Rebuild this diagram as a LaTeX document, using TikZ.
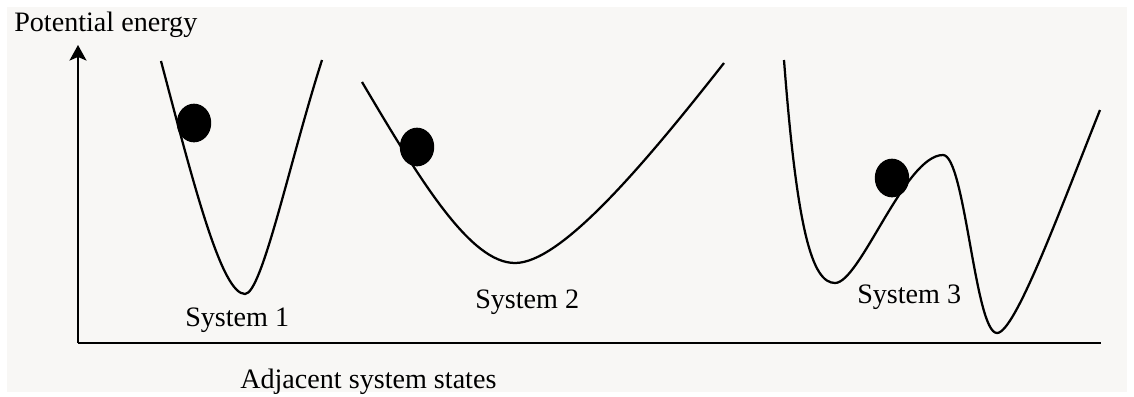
\documentclass[tikz,border=0pt]{standalone}
\usepackage{fontspec}
\setmainfont{Liberation Serif}
\usetikzlibrary{arrows.meta,shapes.geometric}

\definecolor{paper}{RGB}{248,247,245}

\begin{document}
\begin{tikzpicture}[
    x=0.025cm, y=-0.025cm,
    % Style for the axes (thick black lines)
    axis/.style={line width=1.8pt},
    % Style for the energy landscapes
    curve/.style={line width=1.6pt, line join=round},
    % Style for the balls (filled black ellipses)
    ball/.style={ellipse, fill=black, inner sep=0pt, minimum width=24.5pt, minimum height=27.5pt},
    % Style for the labels
    lbl/.style={font=\fontsize{20}{24}\selectfont, inner sep=0pt, anchor=base west}
]

% Background sheet with a thin white margin
\useasboundingbox (0,0) rectangle (1134,396);
\fill[paper] (7,7) rectangle (1127,392);

% ==========================
% Axes
% ==========================
\coordinate (origin) at (78,343);
\coordinate (ytop) at (78,45);
\coordinate (xend) at (1101,343);

\draw[axis, -{Stealth[length=11pt, width=12pt, inset=2.5pt]}] (origin) -- (ytop);
\draw[axis] (origin) -- (xend);

\node[lbl] (ylabel) at (14,31) {Potential energy};
\node[lbl] (xlabel) at (240,388) {Adjacent system states};

% ==========================
% System 1: narrow well
% ==========================
\draw[curve] (161,61) .. controls (195,190) and (222,294) .. (245,294)
                      .. controls (262,294) and (290,160) .. (322,60);
\node[ball] (ball1) at (194,123) {};
\node[lbl] (sys1) at (185,326) {System 1};

% ==========================
% System 2: wide well
% ==========================
\draw[curve] (362,82) .. controls (420,180) and (470,263) .. (515,263)
                      .. controls (560,263) and (640,170) .. (724,63);
\node[ball] (ball2) at (417,147) {};
\node[lbl] (sys2) at (475,308) {System 2};

% ==========================
% System 3: double well
% ==========================
\draw[curve] (784,60) .. controls (797,230) and (812,283) .. (835,283)
                      .. controls (860,283) and (905,155) .. (943,155)
                      .. controls (965,155) and (975,333) .. (997,333)
                      .. controls (1015,333) and (1060,210) .. (1100,110);
\node[ball] (ball3) at (892,178) {};
\node[lbl] (sys3) at (857,303) {System 3};

\end{tikzpicture}
\end{document}
